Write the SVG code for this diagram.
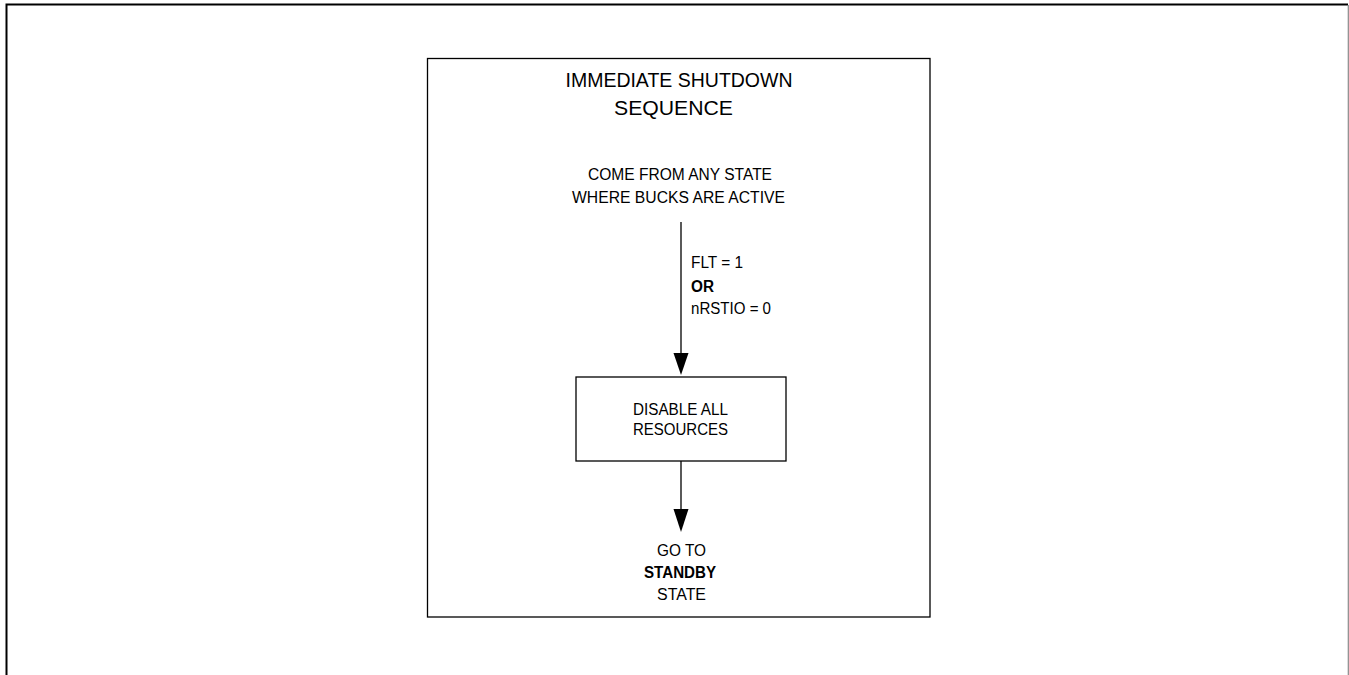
<svg xmlns="http://www.w3.org/2000/svg" width="1349" height="675" viewBox="0 0 1349 675">
<style>
text{font-family:"Liberation Sans",Arial,sans-serif;fill:#000}
.t{font-size:20px}
.n{font-size:16px}
.b{font-weight:bold}
.ln{stroke:#000;stroke-width:1.3;fill:none}
</style>
<rect width="1349" height="675" fill="#fff"/>
<g id="frame">
<path d="M6.5,675 V4.5 H1348" stroke="#000" stroke-width="2" fill="none"/>
<path d="M1348.3,5 V675" stroke="#888" stroke-width="1.2" fill="none"/>
</g>
<g id="container">
<rect x="427.5" y="58.5" width="502.5" height="558.5" fill="none" stroke="#000" stroke-width="1.3"/>
<text class="t" x="679" y="87" text-anchor="middle" textLength="227" lengthAdjust="spacingAndGlyphs">IMMEDIATE SHUTDOWN</text>
<text class="t" x="673.5" y="115" text-anchor="middle" textLength="119" lengthAdjust="spacingAndGlyphs">SEQUENCE</text>
</g>
<g id="start">
<text class="n" x="680" y="180" text-anchor="middle" textLength="184" lengthAdjust="spacingAndGlyphs">COME FROM ANY STATE</text>
<text class="n" x="678.5" y="203" text-anchor="middle" textLength="213" lengthAdjust="spacingAndGlyphs">WHERE BUCKS ARE ACTIVE</text>
</g>
<g id="disable">
<rect x="576" y="377" width="210" height="84" fill="#fff" stroke="#000" stroke-width="1.3"/>
<text class="n" x="680.5" y="415" text-anchor="middle" textLength="95" lengthAdjust="spacingAndGlyphs">DISABLE ALL</text>
<text class="n" x="680.5" y="435" text-anchor="middle" textLength="95" lengthAdjust="spacingAndGlyphs">RESOURCES</text>
</g>
<g id="standby">
<text class="n" x="681.5" y="556" text-anchor="middle" textLength="49" lengthAdjust="spacingAndGlyphs">GO TO</text>
<text class="n b" x="680" y="578" text-anchor="middle" textLength="72" lengthAdjust="spacingAndGlyphs">STANDBY</text>
<text class="n" x="681.5" y="600" text-anchor="middle" textLength="49" lengthAdjust="spacingAndGlyphs">STATE</text>
</g>
<g id="connectors">
<line class="ln" x1="681" y1="222" x2="681" y2="355"/>
<path d="M673.5,353 L688.5,353 L681,375 Z" fill="#000"/>
<line class="ln" x1="681" y1="461" x2="681" y2="511"/>
<path d="M673.5,509 L688.5,509 L681,532 Z" fill="#000"/>
<text class="n" x="691" y="268" textLength="52" lengthAdjust="spacingAndGlyphs">FLT = 1</text>
<text class="n b" x="691" y="292" textLength="23" lengthAdjust="spacingAndGlyphs">OR</text>
<text class="n" x="691" y="314" textLength="80" lengthAdjust="spacingAndGlyphs">nRSTIO = 0</text>
</g>
</svg>
